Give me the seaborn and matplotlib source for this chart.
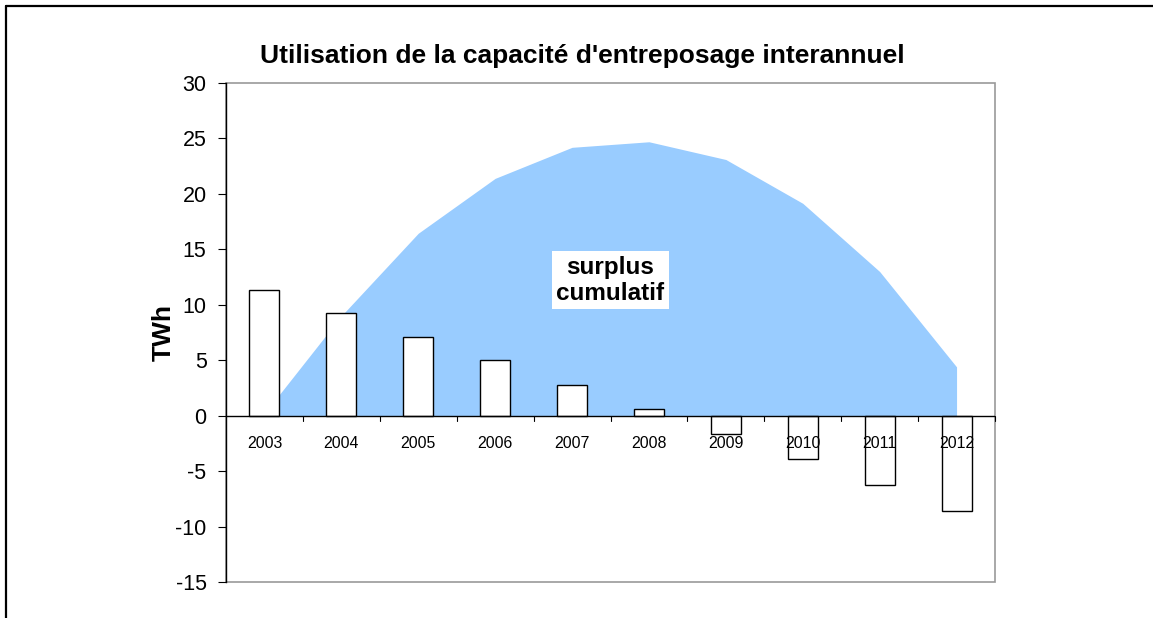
import matplotlib
matplotlib.use("Agg")
import matplotlib.pyplot as plt
from matplotlib.lines import Line2D
from matplotlib.patches import Rectangle
import pandas as pd
import seaborn as sns

# Données
years = ['2003', '2004', '2005', '2006', '2007', '2008', '2009', '2010', '2011', '2012']
annual = [11.35, 9.25, 7.1, 4.98, 2.78, 0.6, -1.65, -3.9, -6.22, -8.6]
cumulative = [0.2, 9.0, 16.45, 21.4, 24.2, 24.7, 23.1, 19.15, 13.0, 4.4]
yticks = [-15, -10, -5, 0, 5, 10, 15, 20, 25, 30]

sns.set_style('white')
plt.rcParams['font.family'] = ['Liberation Sans', 'DejaVu Sans']
plt.rcParams['axes.unicode_minus'] = False
plt.rcParams['text.color'] = 'black'
plt.rcParams['axes.labelcolor'] = 'black'
plt.rcParams['xtick.color'] = 'black'
plt.rcParams['ytick.color'] = 'black'

df = pd.DataFrame({'year': years, 'value': annual})

fig = plt.figure(figsize=(11.53, 6.18), dpi=100)
ax = fig.add_axes([226 / 1153, 1 - 582 / 618, (995 - 226) / 1153, (582 - 83) / 618])

# surface du surplus cumulatif
ax.fill_between(range(len(years)), cumulative, 0, color='#99CCFF', linewidth=0, zorder=1)

# barres annuelles
sns.barplot(data=df, x='year', y='value', color='white', edgecolor='black',
            linewidth=1.0, width=0.39, saturation=1, ax=ax, zorder=2)
for p in ax.patches:
    p.set_facecolor('white')

ax.set_xlim(-0.5, len(years) - 0.5)
ax.set_ylim(-15, 30)
ax.set_yticks(yticks)
ax.tick_params(axis='y', which='major', direction='out', length=6, width=0.8,
               color='black', labelsize=15.5, pad=8, left=True)

# axe des x à zéro, cadre gris de la zone de tracé
for s in ['top', 'right', 'bottom']:
    ax.spines[s].set_visible(False)
ax.spines['left'].set_color('black')
ax.spines['left'].set_linewidth(1.0)
ax.spines['left'].set_zorder(4)
ax.axhline(0, color='black', linewidth=1.0, zorder=3)
ax.add_patch(Rectangle((0, 0), 1, 1, transform=ax.transAxes, fill=False,
                       edgecolor='#999999', linewidth=1.2, zorder=0.5, clip_on=False))

# libellés des années juste sous la ligne zéro
ax.set_xticks(range(len(years)))
ax.set_xticklabels([])
ax.tick_params(axis='x', which='major', length=0)
ax.set_xlabel('')
for i, y in enumerate(years):
    ax.text(i, -2.5, y, ha='center', va='center', fontsize=11.4, zorder=5)
for b in [i + 0.5 for i in range(len(years))]:
    ax.plot([b, b], [0, -0.45], color='black', linewidth=0.8, zorder=3, clip_on=False)

ax.set_ylabel('TWh', fontsize=19, fontweight='bold', labelpad=0)

ax.text(4.5, 12.2, 'surplus\ncumulatif', ha='center', va='center', fontsize=17.5,
        fontweight='bold', zorder=6,
        bbox=dict(facecolor='white', edgecolor='none', pad=3))

fig.text(582 / 1153, 1 - 63 / 618, "Utilisation de la capacité d'entreposage interannuel",
         ha='center', va='baseline', fontsize=19, fontweight='bold')

# cadre de la figure
fig.add_artist(Line2D([6 / 1153, 6 / 1153], [-0.1, 1 - 6 / 618], color='black',
                      linewidth=1.6, transform=fig.transFigure))
fig.add_artist(Line2D([6 / 1153, 1.1], [1 - 6 / 618, 1 - 6 / 618], color='black',
                      linewidth=1.6, transform=fig.transFigure))

fig.savefig('out.png', dpi=100, facecolor='white')
